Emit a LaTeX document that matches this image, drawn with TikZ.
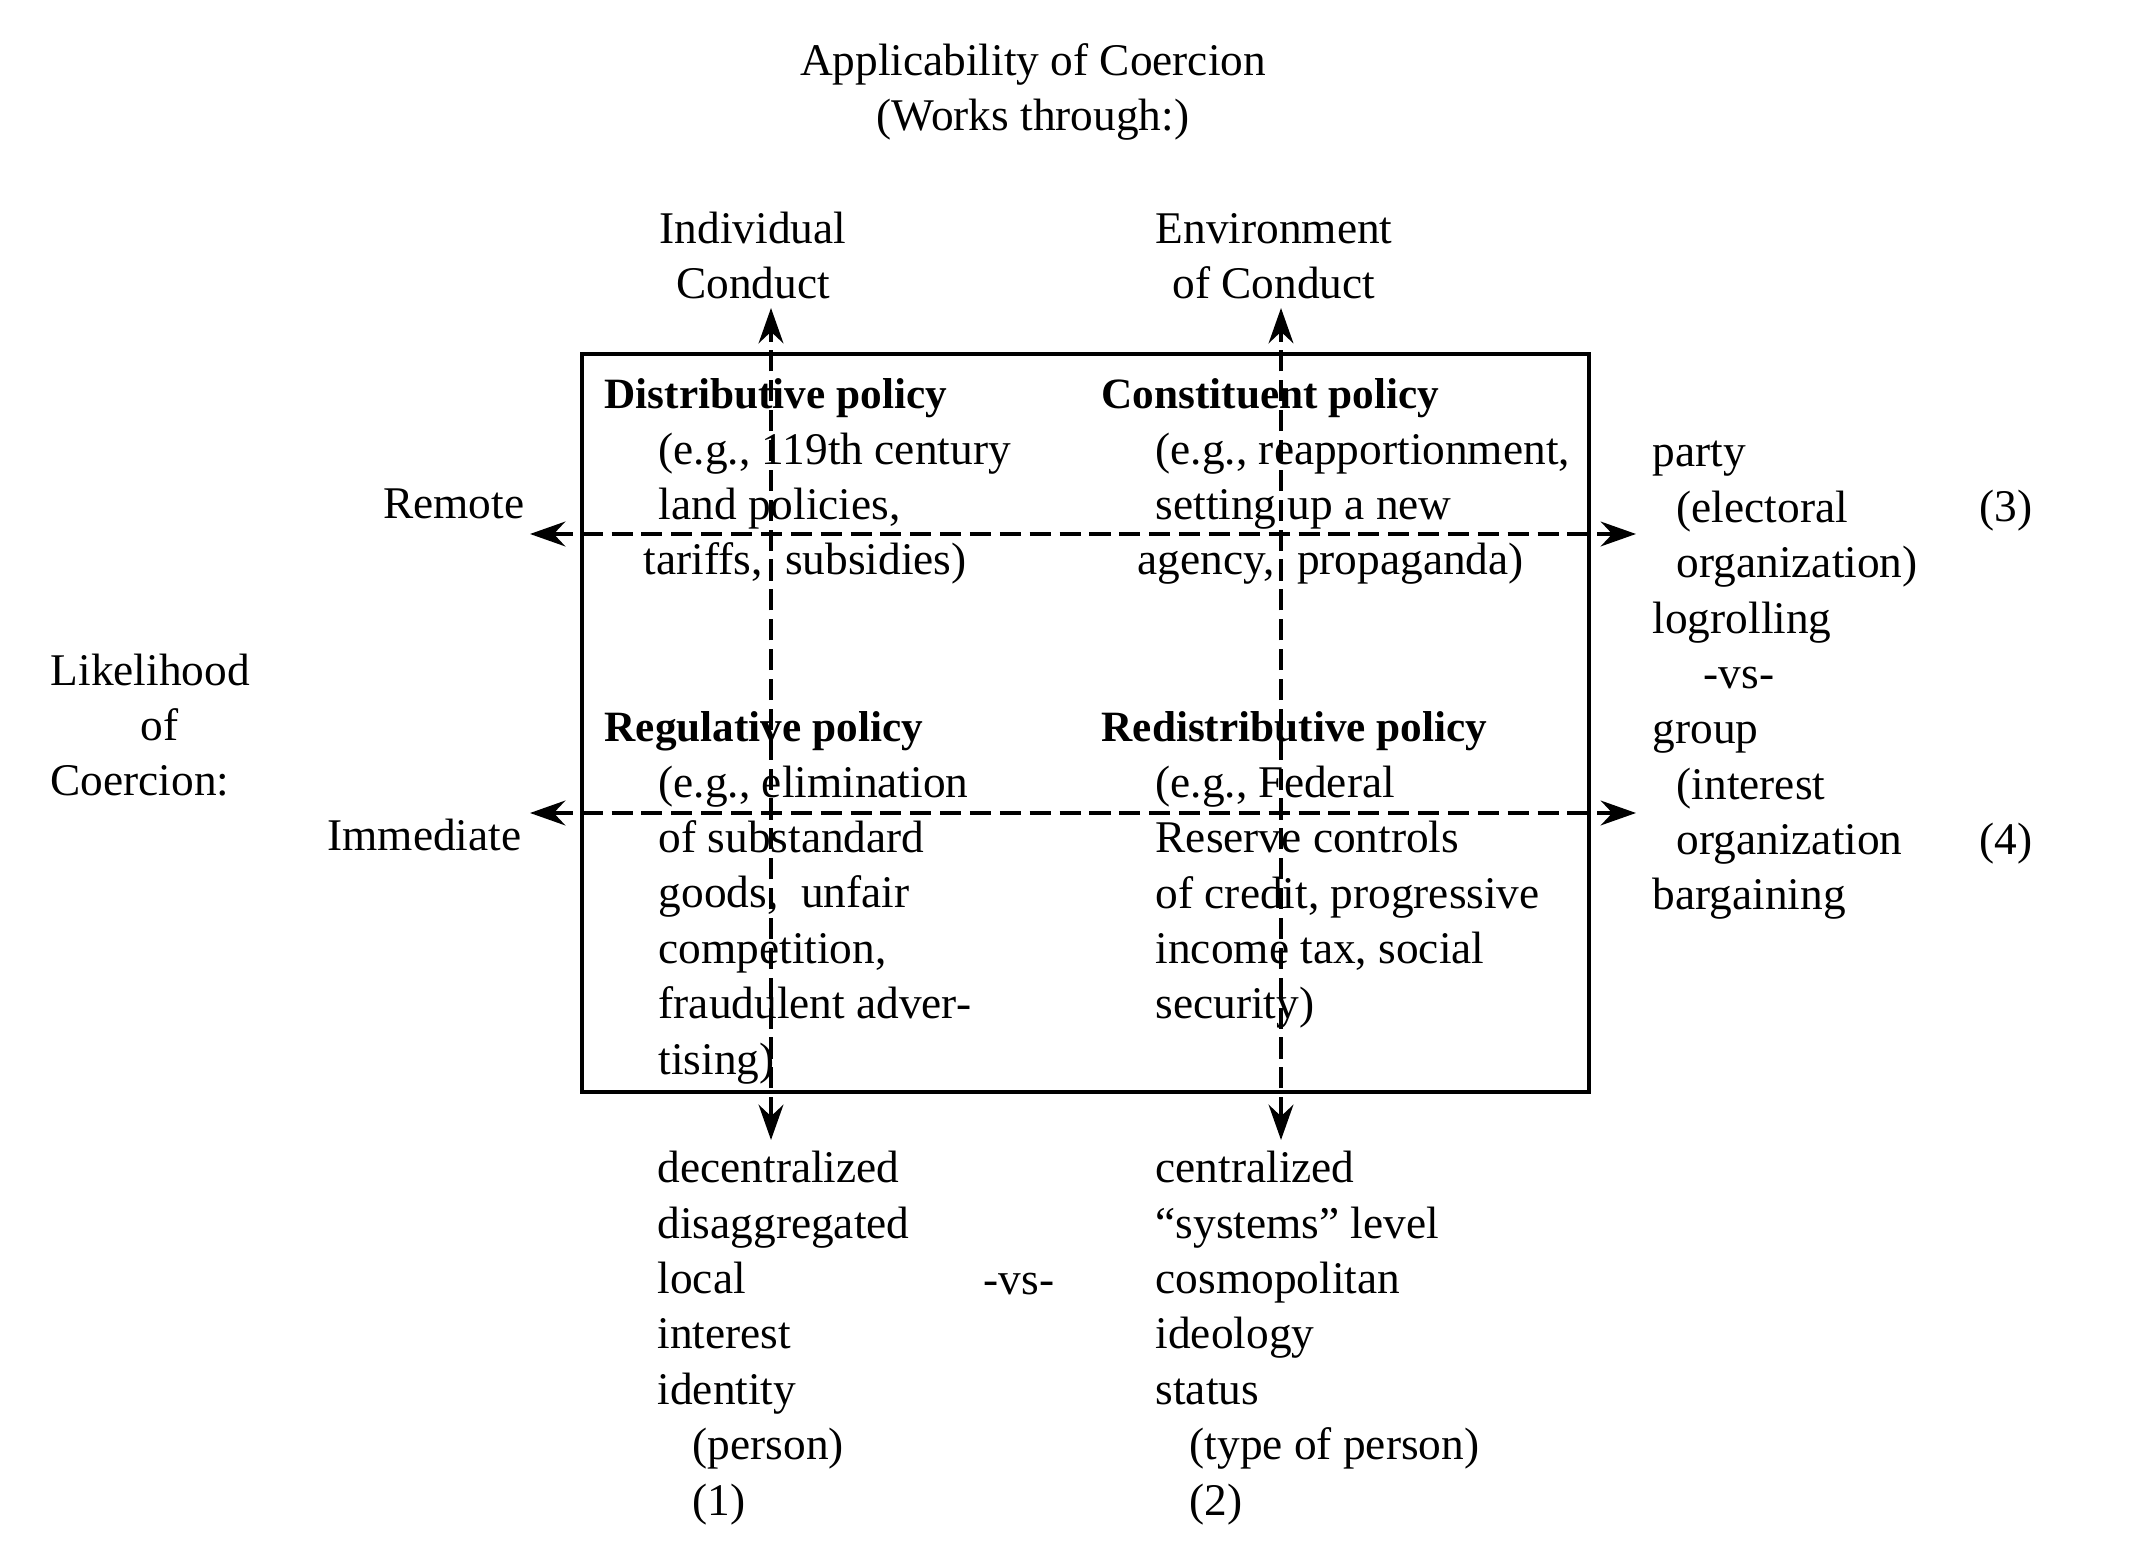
\documentclass[tikz,border=0pt]{standalone}
\usepackage{fontspec}
\setmainfont{Liberation Serif}
\usepackage{tikz}
\usetikzlibrary{arrows.meta}
\newcommand{\txtsize}{\fontsize{12.9}{15.76}\selectfont}
\tikzset{
  lbl/.style={font=\txtsize, inner sep=0pt, align=left, anchor=base west},
  head/.style={lbl, font=\fontsize{12.3}{15.76}\selectfont\bfseries},
  axis/.style={line width=1.3pt, dash pattern=on 6pt off 2.5pt, <->, >={Stealth[length=10pt,width=7pt]}},
}

\begin{document}
\begin{tikzpicture}
\useasboundingbox (0,0) rectangle (21.36,15.64);

% headings (base = last line)
\node[lbl, align=center, anchor=base] (title) at (10.33,14.33) {Applicability of Coercion\\(Works through:)};
\node[lbl, align=center, anchor=base] (indiv) at (7.53,12.65) {Individual\\Conduct};
\node[lbl, align=center, anchor=base] (envir) at (12.74,12.65) {Environment\\of Conduct};
\node[lbl] (likely) at (0.50,7.68) {Likelihood\\\hspace*{0.90cm}of\\Coercion:};
\node[lbl, anchor=base east] (remote) at (5.25,10.45) {Remote};
\node[lbl, anchor=base east] (immed) at (5.22,7.13) {Immediate};

% frame
\draw[line width=1.2pt] (5.82,4.72) rectangle (15.89,12.10);

% the four policies
\node[head] (distr) at (6.04,11.55) {Distributive policy};
\node[lbl] (distrtxt) at (6.58,9.89) {(e.g., 119th century\\land policies,\\\hspace*{-0.15cm}tariffs, \ subsidies)};
\node[head] (const) at (11.01,11.55) {Constituent policy};
\node[lbl] (consttxt) at (11.55,9.89) {(e.g., reapportionment,\\setting up a new\\\hspace*{-0.18cm}agency, \ propaganda)};
\node[head] (regul) at (6.04,8.22) {Regulative policy};
\node[lbl] (regultxt) at (6.58,4.90) {(e.g., elimination\\of substandard\\goods, \ unfair\\competition,\\fraudulent adver-\\tising)};
\node[head] (redis) at (11.01,8.22) {Redistributive policy};
\node[lbl] (redistxt) at (11.55,5.45) {(e.g., Federal\\Reserve controls\\of credit, progressive\\income tax, social\\security)};

% right side
\node[lbl] (partygrp) at (16.52,6.54) {party\\\hspace*{0.24cm}(electoral\\\hspace*{0.24cm}organization)\\logrolling\\\hspace*{0.51cm}-vs-\\group\\\hspace*{0.24cm}(interest\\\hspace*{0.24cm}organization\\bargaining};
\node[lbl] (three) at (19.79,10.42) {(3)};
\node[lbl] (four) at (19.79,7.09) {(4)};

% bottom
\node[lbl] (decent) at (6.57,0.49) {decentralized\\disaggregated\\local\\interest\\identity\\\hspace*{0.35cm}(person)\\\hspace*{0.35cm}(1)};
\node[lbl] (cent) at (11.55,0.49) {centralized\\``systems'' level\\cosmopolitan\\ideology\\status\\\hspace*{0.34cm}(type of person)\\\hspace*{0.34cm}(2)};
\node[lbl, anchor=base] (vs) at (10.19,2.70) {-vs-};

% dashed axes
\foreach \x/\n in {7.71/ind, 12.81/env} {
  \coordinate (\n top) at (\x,12.56);
  \coordinate (\n bot) at (\x,4.24);
  \draw[axis] (\n bot) -- (\n top);
}
\foreach \y/\n in {10.30/rem, 7.51/imm} {
  \coordinate (\n left) at (5.30,\y);
  \coordinate (\n right) at (16.36,\y);
  \draw[axis] (\n left) -- (\n right);
}
\end{tikzpicture}
\end{document}
